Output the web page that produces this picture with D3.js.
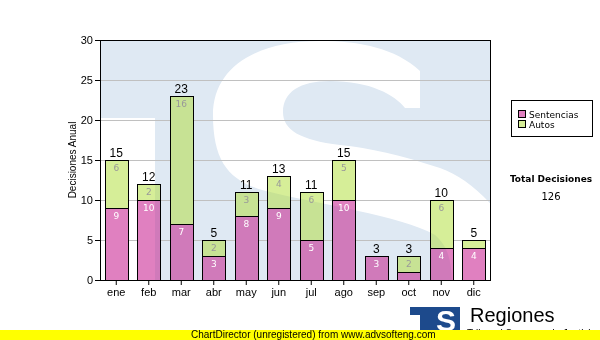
<!DOCTYPE html>
<html>
<head>
<meta charset="utf-8">
<script src="https://cdn.jsdelivr.net/npm/d3@7"></script>
<style>
  body { margin: 0; background: #fff; }
  svg { display: block; }
</style>
</head>
<body>
<svg id="chart" width="600" height="340"></svg>
<script>
// Monthly decisions, stacked by type
const months = ["ene", "feb", "mar", "abr", "may", "jun", "jul", "ago", "sep", "oct", "nov", "dic"];
const sentencias = [9, 10, 7, 3, 8, 9, 5, 10, 3, 1, 4, 4];
const autos = [6, 2, 16, 2, 3, 4, 6, 5, 0, 2, 6, 1];
const yTicks = [0, 5, 10, 15, 20, 25, 30];
const seriesNames = ["Sentencias", "Autos"];
const seriesColors = ["#e080c0", "#d6ee98"];
const segLabelColors = ["#ffffff", "#999999"];

const rows = months.map((m, i) => ({ month: m, Sentencias: sentencias[i], Autos: autos[i] }));
const totals = rows.map(r => r.Sentencias + r.Autos);
const grandTotal = d3.sum(totals);

const svg = d3.select("#chart");
const plot = { left: 100, right: 490, top: 40, bottom: 280 };

const x = d3.scaleBand().domain(months)
  .range([plot.left, plot.right]).paddingInner(0.3).paddingOuter(0.15);
const y = d3.scaleLinear().domain([0, 30]).range([plot.bottom, plot.top]);

const defs = svg.append("defs");
defs.append("clipPath").attr("id", "plotClip")
  .append("rect").attr("x", plot.left).attr("y", plot.top)
  .attr("width", plot.right - plot.left).attr("height", plot.bottom - plot.top);

// Logo watermark shapes (blue field with the white S cut out)
const wmBlue = "M100,40 H490 V280 H155 V118 H100 Z";
const wmS = "M420,71 C395,48 360,41 320,41 C255,41 213,68 213,115 " +
            "C213,160 228,180 262,190 C320,205 400,215 435,235 " +
            "C450,248 452,265 452,290 L500,290 L500,215 " +
            "C480,190 460,175 440,168 C400,155 370,148 340,145 " +
            "C300,140 283,130 283,112 C283,92 300,81 330,81 " +
            "C370,81 395,95 405,108 L420,108 Z";
function drawWatermark(g) {
  g.append("path").attr("d", wmBlue).attr("fill", "#dfe9f3");
  g.append("path").attr("d", wmS).attr("fill", "#ffffff");
}
drawWatermark(svg.append("g").attr("clip-path", "url(#plotClip)"));

// Horizontal grid
svg.append("g").selectAll("line").data(yTicks.filter(t => t > 0 && t < 30)).join("line")
  .attr("x1", plot.left).attr("x2", plot.right)
  .attr("y1", d => y(d) + 0.5).attr("y2", d => y(d) + 0.5)
  .attr("stroke", "#c0c0c0").attr("stroke-width", 1);

// Stacked bars
const stack = d3.stack().keys(seriesNames)(rows);
const segments = stack.flatMap((layer, si) =>
  layer.filter(d => d[1] > d[0]).map(d => ({ d, si })));
const rx = s => Math.round(x(s.d.data.month)) + 0.5;
const ry = s => Math.round(y(s.d[1])) + 0.5;
const rh = s => Math.round(y(s.d[0])) - Math.round(y(s.d[1]));
const bw = Math.round(x.bandwidth());

svg.append("g").attr("shape-rendering", "crispEdges")
  .selectAll("rect").data(segments).join("rect")
  .attr("x", rx).attr("y", ry).attr("width", bw).attr("height", rh)
  .attr("fill", s => seriesColors[s.si])
  .attr("stroke", "#000").attr("stroke-width", 1);

// Faint watermark shading over the bars
const barClip = defs.append("clipPath").attr("id", "barClip");
barClip.selectAll("rect").data(segments).join("rect")
  .attr("x", s => rx(s) + 0.5).attr("y", s => ry(s) + 0.5)
  .attr("width", bw - 1).attr("height", s => rh(s) - 1);
const shade = svg.append("g").attr("clip-path", "url(#barClip)")
  .style("mix-blend-mode", "multiply").attr("opacity", 0.55);
drawWatermark(shade);

// Segment value labels
stack.forEach((layer, si) => {
  svg.append("g").selectAll("text").data(layer.filter(d => d[1] - d[0] >= 2)).join("text")
    .attr("x", d => x(d.data.month) + x.bandwidth() / 2)
    .attr("y", d => y(d[1]) + 10.5)
    .attr("text-anchor", "middle")
    .attr("font-family", "DejaVu Sans")
    .attr("font-size", 9)
    .attr("fill", segLabelColors[si])
    .text(d => d[1] - d[0]);
});

// Totals above bars
svg.append("g").selectAll("text").data(rows).join("text")
  .attr("x", d => x(d.month) + x.bandwidth() / 2)
  .attr("y", (d, i) => y(totals[i]) - 3)
  .attr("text-anchor", "middle")
  .attr("font-family", "Liberation Sans, Arial")
  .attr("font-size", 12)
  .attr("fill", "#000")
  .text((d, i) => totals[i]);

// Axes
const yAxis = svg.append("g").attr("transform", `translate(${plot.left},0)`)
  .call(d3.axisLeft(y).tickValues(yTicks).tickSize(5).tickSizeOuter(0).tickPadding(2));
const xAxis = svg.append("g").attr("transform", `translate(0,${plot.bottom})`)
  .call(d3.axisBottom(x).tickSize(5).tickSizeOuter(0).tickPadding(3));
[yAxis, xAxis].forEach(a => {
  a.selectAll("text").attr("font-family", "Liberation Sans, Arial").attr("font-size", 11).attr("fill", "#000");
  a.selectAll("line").attr("stroke", "#000");
  a.select(".domain").attr("stroke", "#000");
});

// Plot frame
svg.append("rect")
  .attr("x", plot.left + 0.5).attr("y", plot.top + 0.5)
  .attr("width", plot.right - plot.left).attr("height", plot.bottom - plot.top)
  .attr("fill", "none").attr("stroke", "#000");

// Y axis title
svg.append("text")
  .attr("transform", "translate(76,160) rotate(-90)")
  .attr("text-anchor", "middle")
  .attr("font-family", "Liberation Sans, Arial")
  .attr("font-size", 10)
  .text("Decisiones Anual");

// Legend
const legend = svg.append("g");
legend.append("rect").attr("x", 511.5).attr("y", 100.5).attr("width", 81).attr("height", 36)
  .attr("fill", "#fff").attr("stroke", "#000");
seriesNames.forEach((name, i) => {
  legend.append("rect").attr("x", 518.5).attr("y", 110.5 + i * 10).attr("width", 7).attr("height", 7)
    .attr("fill", seriesColors[i]).attr("stroke", "#000");
  legend.append("text").attr("x", 529).attr("y", 118 + i * 10)
    .attr("font-family", "DejaVu Sans").attr("font-size", 9).text(name);
});

// Grand total
svg.append("text").attr("x", 551).attr("y", 182).attr("text-anchor", "middle")
  .attr("font-family", "DejaVu Sans").attr("font-weight", "bold").attr("font-size", 9)
  .text("Total Decisiones");
svg.append("text").attr("x", 551).attr("y", 200).attr("text-anchor", "middle")
  .attr("font-family", "DejaVu Sans").attr("font-size", 10)
  .text(grandTotal);

// Footer logo and caption
const logo = svg.append("g");
logo.append("rect").attr("x", 410).attr("y", 307).attr("width", 50).attr("height", 8).attr("fill", "#1d4a8c");
logo.append("rect").attr("x", 420).attr("y", 307).attr("width", 12).attr("height", 24).attr("fill", "#1d4a8c");
logo.append("rect").attr("x", 432).attr("y", 307).attr("width", 28).attr("height", 24).attr("fill", "#1d4a8c");
logo.append("text").attr("x", 446).attr("y", 331).attr("text-anchor", "middle")
  .attr("font-family", "Liberation Sans, Arial").attr("font-weight", "bold").attr("font-size", 30)
  .attr("fill", "#fff").text("S");
svg.append("text").attr("x", 470).attr("y", 322)
  .attr("font-family", "Liberation Sans, Arial").attr("font-size", 20).text("Regiones");
svg.append("text").attr("x", 467).attr("y", 337)
  .attr("font-family", "Liberation Sans, Arial").attr("font-size", 10).text("Tribunal Supremo de Justicia");

svg.append("rect").attr("x", 0).attr("y", 330).attr("width", 600).attr("height", 10).attr("fill", "#ffff00");
svg.append("text").attr("x", 191).attr("y", 338)
  .attr("font-family", "Liberation Sans, Arial").attr("font-size", 10)
  .text("ChartDirector (unregistered) from www.advsofteng.com");
</script>
</body>
</html>
